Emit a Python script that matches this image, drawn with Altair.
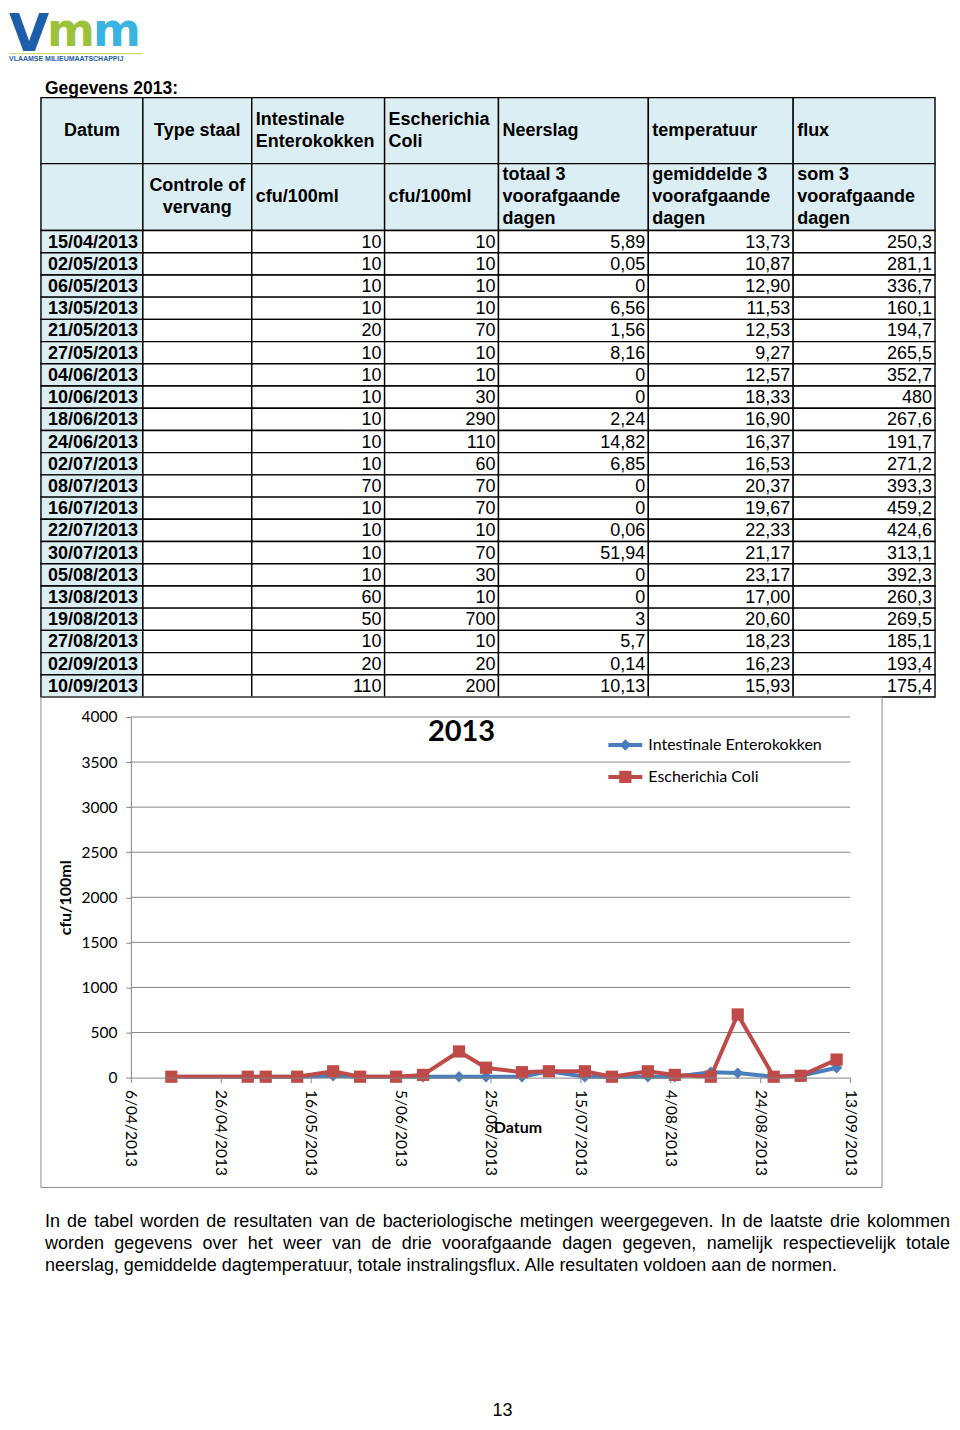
import altair as alt
import pandas as pd
from datetime import datetime, timezone

# ---------------- data ----------------
dates = ["15/04/2013", "02/05/2013", "06/05/2013", "13/05/2013", "21/05/2013", "27/05/2013",
         "04/06/2013", "10/06/2013", "18/06/2013", "24/06/2013", "02/07/2013", "08/07/2013",
         "16/07/2013", "22/07/2013", "30/07/2013", "05/08/2013", "13/08/2013", "19/08/2013",
         "27/08/2013", "02/09/2013", "10/09/2013"]
enterokokken = [10, 10, 10, 10, 20, 10, 10, 10, 10, 10, 10, 70, 10, 10, 10, 10, 60, 50, 10, 20, 110]
ecoli = [10, 10, 10, 10, 70, 10, 10, 30, 290, 110, 60, 70, 70, 10, 70, 30, 10, 700, 10, 20, 200]
neerslag = ["5,89", "0,05", "0", "6,56", "1,56", "8,16", "0", "0", "2,24", "14,82", "6,85", "0",
            "0", "0,06", "51,94", "0", "0", "3", "5,7", "0,14", "10,13"]
temperatuur = ["13,73", "10,87", "12,90", "11,53", "12,53", "9,27", "12,57", "18,33", "16,90",
               "16,37", "16,53", "20,37", "19,67", "22,33", "21,17", "23,17", "17,00", "20,60",
               "18,23", "16,23", "15,93"]
flux = ["250,3", "281,1", "336,7", "160,1", "194,7", "265,5", "352,7", "480", "267,6", "191,7",
        "271,2", "393,3", "459,2", "424,6", "313,1", "392,3", "260,3", "269,5", "185,1", "193,4",
        "175,4"]

header_row1 = ["Datum", "Type staal", "Intestinale\nEnterokokken", "Escherichia\nColi",
               "Neerslag", "temperatuur", "flux"]
header_row2 = ["", "Controle of\nvervang", "cfu/100ml", "cfu/100ml",
               "totaal 3\nvoorafgaande\ndagen", "gemiddelde 3\nvoorafgaande\ndagen",
               "som 3\nvoorafgaande\ndagen"]

series_names = ["Intestinale Enterokokken", "Escherichia Coli"]
x_tick_dates = ["06/04/2013", "26/04/2013", "16/05/2013", "05/06/2013", "25/06/2013",
                "15/07/2013", "04/08/2013", "24/08/2013", "13/09/2013"]
y_ticks = [0, 500, 1000, 1500, 2000, 2500, 3000, 3500, 4000]

chart_title = "2013"
y_title = "cfu/100ml"
x_title = "Datum"
page_title = "Gegevens 2013:"
logo_sub = "VLAAMSE MILIEUMAATSCHAPPIJ"
paragraph_lines = [
    "In de tabel worden de resultaten van de bacteriologische metingen weergegeven. In de laatste drie kolommen",
    "worden gegevens over het weer van de drie voorafgaande dagen gegeven, namelijk respectievelijk totale",
    "neerslag, gemiddelde dagtemperatuur, totale instralingsflux. Alle resultaten voldoen aan de normen.",
]
page_number = "13"

# ---------------- styling / layout ----------------
TF = "Liberation Sans"
CF = "Lato"
BLUE = "#4a7ebb"
RED = "#be4b48"
GRID = "#868686"
HEAD_BG = "#dbeef3"
W = 944

one = pd.DataFrame({"k": [0]})


def txt(t, x, y, size, color="black", weight="normal", align="left",
        baseline="middle", font=TF, **kw):
    return alt.Chart(one).mark_text(
        text=t, fontSize=size, color=color, fontWeight=weight, align=align,
        baseline=baseline, font=font, **kw
    ).encode(x=alt.value(x), y=alt.value(y))


# ---------------- header (logo + title) ----------------
logo_blue = "#1d5ea8"
header = alt.layer(
    txt("V", 0, 42, 52, color=logo_blue, weight="bold", baseline="alphabetic", font="DejaVu Sans"),
    txt("m", 38, 37, 46, color="#9cc23c", weight="bold", baseline="alphabetic", font="DejaVu Sans"),
    txt("m", 84, 37, 46, color="#3ab5e2", weight="bold", baseline="alphabetic", font="DejaVu Sans"),
    alt.Chart(one).mark_rule(color="#c9cf5a", strokeWidth=1).encode(
        x=alt.value(0), x2=alt.value(134), y=alt.value(45)),
    txt(logo_sub, 0, 50, 7, color=logo_blue, weight="bold"),
    txt(page_title, 36, 80, 17.5, weight="bold"),
).properties(width=W, height=89)

# ---------------- table ----------------
col_edges = [32, 134, 243, 376, 490, 640, 785, 927]
H1, H2 = 66, 67
ROW_H = 467 / 21
TOP = H1 + H2

rects = []
for c in range(7):
    rects.append(dict(x1=col_edges[c], x2=col_edges[c + 1], y1=0, y2=H1, f=HEAD_BG))
    rects.append(dict(x1=col_edges[c], x2=col_edges[c + 1], y1=H1, y2=TOP, f=HEAD_BG))
for r in range(len(dates)):
    for c in range(7):
        rects.append(dict(x1=col_edges[c], x2=col_edges[c + 1], y1=TOP + ROW_H * r,
                          y2=TOP + ROW_H * (r + 1), f=HEAD_BG if c == 0 else "white"))
rect_df = pd.DataFrame(rects)

hc, hl = [], []
for row_labels, cy in ((header_row1, H1 / 2), (header_row2, H1 + H2 / 2)):
    for c, lab in enumerate(row_labels):
        if not lab:
            continue
        lines = lab.split("\n")
        n = len(lines)
        for k, ln in enumerate(lines):
            yy = cy + (k - (n - 1) / 2) * 22
            if c < 2:
                hc.append(dict(x=(col_edges[c] + col_edges[c + 1]) / 2, y=yy, t=ln))
            else:
                hl.append(dict(x=col_edges[c] + 4, y=yy, t=ln))
hc_df = pd.DataFrame(hc)
hl_df = pd.DataFrame(hl)

date_rows, val_rows = [], []
cols = [enterokokken, ecoli, neerslag, temperatuur, flux]
for r, d in enumerate(dates):
    yy = TOP + ROW_H * (r + 0.5) + 1
    date_rows.append(dict(x=col_edges[0] + 7, y=yy, t=d))
    for j, colvals in enumerate(cols):
        val_rows.append(dict(x=col_edges[j + 3] - 3, y=yy, t=str(colvals[r])))
date_df = pd.DataFrame(date_rows)
val_df = pd.DataFrame(val_rows)


def pos_text(df, align, weight):
    return alt.Chart(df).mark_text(align=align, baseline="middle", font=TF, fontSize=18,
                                   fontWeight=weight, color="black").encode(
        x=alt.X("x:Q", scale=None), y=alt.Y("y:Q", scale=None), text="t:N")


table = alt.layer(
    alt.Chart(rect_df).mark_rect(stroke="black", strokeWidth=1.4).encode(
        x=alt.X("x1:Q", scale=None), x2="x2:Q",
        y=alt.Y("y1:Q", scale=None), y2="y2:Q",
        fill=alt.Fill("f:N", scale=None)),
    pos_text(hc_df, "center", "bold"),
    pos_text(hl_df, "left", "bold"),
    pos_text(date_df, "left", "bold"),
    pos_text(val_df, "right", "normal"),
).properties(width=W, height=600)


# ---------------- line chart ----------------
def ms(d):
    dd, mm, yy = map(int, d.split("/"))
    return datetime(yy, mm, dd, tzinfo=timezone.utc).timestamp() * 1000


def iso(d):
    dd, mm, yy = d.split("/")
    return f"{yy}-{mm}-{dd}"


CH = 491
x_scale = alt.Scale(type="utc", domain=[ms(x_tick_dates[0]), ms(x_tick_dates[-1])], range=[122, 842])
y_scale = alt.Scale(domain=[0, 4000], range=[381, 20], nice=False)

x_axis = alt.Axis(values=[ms(d) for d in x_tick_dates],
                  labelExpr="utcFormat(datum.value, '%-d/%m/%Y')",
                  labelAngle=90, labelFont=CF, labelFontSize=15.5, labelColor="black",
                  labelPadding=7, labelOverlap=False, labelFlush=False,
                  tickSize=5, tickColor=GRID, domainColor=GRID, grid=False, offset=-110,
                  title=x_title, titleFont=CF, titleFontSize=16, titleFontWeight="bold",
                  titleColor="black", titleX=509, titleY=50, titleAlign="center",
                  titleBaseline="middle", zindex=1)
y_axis = alt.Axis(values=y_ticks, format="d", labelFont=CF, labelFontSize=15.5,
                  labelColor="black", labelPadding=9, tickSize=5, tickColor=GRID,
                  domainColor=GRID, grid=False, offset=-122, title=y_title, titleFont=CF,
                  titleFontSize=16, titleFontWeight="bold", titleColor="black",
                  titlePadding=7, zindex=1)

ye_grid = alt.Y("v:Q", scale=y_scale, axis=y_axis, title=y_title)

series_vals = [enterokokken, ecoli]
series_style = [(BLUE, "diamond", 130), (RED, "square", 150)]

layers = [
    alt.Chart(one).mark_rect(fillOpacity=0, stroke="#8c8c8c", strokeWidth=1).encode(
        x=alt.value(32), x2=alt.value(874), y=alt.value(0), y2=alt.value(CH)),
    alt.Chart(pd.DataFrame({"v": y_ticks[1:]})).mark_rule(color=GRID, strokeWidth=1).encode(
        y=ye_grid, x=alt.value(122), x2=alt.value(842)),
]
for name, vals, (col, shp, sz) in zip(series_names, series_vals, series_style):
    df = pd.DataFrame({"date": [iso(d) for d in dates], "v": vals, "s": name})
    xe = alt.X("date:T", scale=x_scale, axis=x_axis, title=x_title)
    ye = alt.Y("v:Q", scale=y_scale, axis=y_axis, title=y_title)
    layers.append(alt.Chart(df).mark_line(color=col, strokeWidth=4).encode(x=xe, y=ye))
    layers.append(alt.Chart(df).mark_point(shape=shp, filled=True, size=sz, color=col,
                                           opacity=1).encode(x=xe, y=ye))

layers.append(txt(chart_title, 453, 35, 29, weight="bold", align="center", font=CF))
for i, (name, (col, shp, sz)) in enumerate(zip(series_names, series_style)):
    ly = 48 + 32 * i
    layers.append(alt.Chart(one).mark_rule(color=col, strokeWidth=4).encode(
        x=alt.value(600), x2=alt.value(634), y=alt.value(ly)))
    layers.append(alt.Chart(one).mark_point(shape=shp, filled=True, size=sz, color=col,
                                            opacity=1).encode(x=alt.value(617), y=alt.value(ly)))
    layers.append(txt(name, 640, ly, 16, font=CF))

line_chart = alt.layer(*layers).properties(width=W, height=CH)

# ---------------- footer paragraph ----------------
CW = {
    "a": 556, "b": 556, "c": 500, "d": 556, "e": 556, "f": 278, "g": 556, "h": 556, "i": 222,
    "j": 222, "k": 500, "l": 222, "m": 833, "n": 556, "o": 556, "p": 556, "q": 556, "r": 333,
    "s": 500, "t": 278, "u": 556, "v": 500, "w": 722, "x": 500, "y": 500, "z": 500,
    "I": 278, "A": 667, " ": 278, ".": 278, ",": 278,
}
PF = 18


def tw(s):
    return sum(CW.get(ch, 556) for ch in s) / 1000 * PF


LEFT, RIGHT = 36, 942
para = []
for li, line in enumerate(paragraph_lines):
    yy = 35 + 22 * li
    if li < len(paragraph_lines) - 1:
        words = line.split(" ")
        widths = [tw(w) for w in words]
        gap = (RIGHT - LEFT - sum(widths)) / (len(words) - 1)
        x = LEFT
        for w, wd in zip(words, widths):
            para.append(dict(x=x, y=yy, t=w))
            x += wd + gap
    else:
        para.append(dict(x=LEFT, y=yy, t=line))
para_df = pd.DataFrame(para)

footer = alt.layer(
    alt.Chart(para_df).mark_text(align="left", baseline="middle", font=TF, fontSize=PF,
                                 color="black").encode(
        x=alt.X("x:Q", scale=None), y=alt.Y("y:Q", scale=None), text="t:N"),
    txt(page_number, 494, 224, 18, align="center"),
).properties(width=W, height=226)

chart = alt.vconcat(header, table, line_chart, footer, spacing=0, bounds="flush").properties(
    padding=0
).configure_view(stroke=None)

chart.save("out.html", embed_options={"renderer": "svg", "actions": False})
